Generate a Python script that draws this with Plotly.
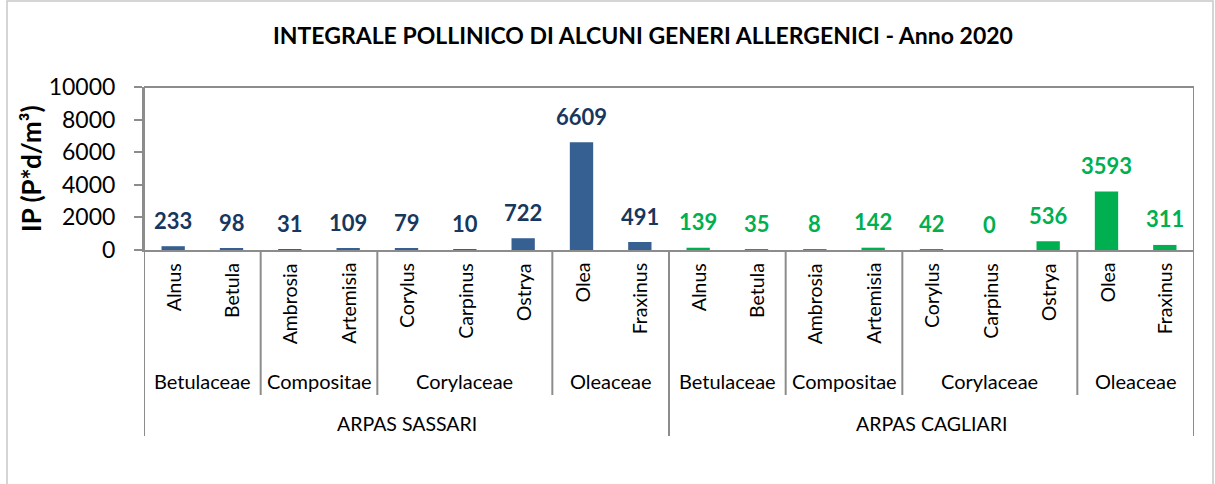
import plotly.graph_objects as go

# ---- data ----
sites = ["ARPAS SASSARI", "ARPAS CAGLIARI"]
families = ["Betulaceae", "Betulaceae", "Compositae", "Compositae",
            "Corylaceae", "Corylaceae", "Corylaceae", "Oleaceae", "Oleaceae"]
genera = ["Alnus", "Betula", "Ambrosia", "Artemisia", "Corylus",
          "Carpinus", "Ostrya", "Olea", "Fraxinus"]
sassari = [233, 98, 31, 109, 79, 10, 722, 6609, 491]
cagliari = [139, 35, 8, 142, 42, 0, 536, 3593, 311]
y_ticks = [0, 2000, 4000, 6000, 8000, 10000]

title = "INTEGRALE POLLINICO DI ALCUNI GENERI ALLERGENICI - Anno 2020"
y_title = "IP (P*d/m³)"

# ---- styles ----
W, H = 1215, 484
L, R, T, B = 144, 1194, 87, 250
FONT = "Lato"
bar_colors = ["#376092", "#00B050"]
label_colors = ["#17375E", "#00B050"]
grey = "#8C8C8C"

def px_x(px):
    return (px - L) / (R - L)

def px_y(py):
    return (B - py) / (B - T)

series = [sassari, cagliari]
n = len(genera)

fig = go.Figure()
annotations = []
shapes = []

for s, (site, vals) in enumerate(zip(sites, series)):
    xs = [s * n + i for i in range(n)]
    fig.add_trace(go.Bar(x=xs, y=vals, width=0.4,
                         marker=dict(color=bar_colors[s], line=dict(width=0)),
                         name=site, showlegend=False, hoverinfo="y"))
    for x, v in zip(xs, vals):
        annotations.append(dict(x=x, y=v, xref="x", yref="y", text="<b>%d</b>" % v,
                                showarrow=False, yanchor="middle", yshift=26,
                                font=dict(family=FONT, size=22, color=label_colors[s]),
                                ))
    for i, (g, x) in enumerate(zip(genera, xs)):
        annotations.append(dict(x=x, y=px_y(261), xref="x", yref="paper", text=g,
                                showarrow=False, textangle=-90, yanchor="top",
                                xanchor="center",
                                font=dict(family=FONT, size=19.5, color="#000000")))
    # family labels
    start = 0
    for i in range(1, n + 1):
        if i == n or families[i] != families[start]:
            cx = s * n + (start + i - 1) / 2
            annotations.append(dict(x=cx, y=px_y(381), xref="x", yref="paper",
                                    text=families[start], showarrow=False,
                                    yanchor="middle",
                                    font=dict(family=FONT, size=20, color="#000000")))
            if i != n:
                shapes.append(dict(type="line", xref="x", yref="paper",
                                   x0=s * n + i - 0.5, x1=s * n + i - 0.5,
                                   y0=0, y1=px_y(395),
                                   line=dict(color=grey, width=2)))
            start = i
    annotations.append(dict(x=s * n + (n - 1) / 2, y=px_y(423), xref="x", yref="paper",
                            text=site, showarrow=False, yanchor="middle",
                            font=dict(family=FONT, size=19.5, color="#000000")))

# site dividers / plot frame
n_sites = len(sites)
for k in range(n_sites + 1):
    top = 1 if k in (0, n_sites) else 0
    shapes.append(dict(type="line", xref="x", yref="paper",
                       x0=k * n - 0.5, x1=k * n - 0.5, y0=px_y(436), y1=top,
                       line=dict(color=grey, width=2)))
shapes.append(dict(type="line", xref="paper", yref="paper", x0=0, x1=1, y0=1, y1=1,
                   line=dict(color=grey, width=2)))
# outer chart border
shapes.append(dict(type="rect", xref="paper", yref="paper",
                   x0=px_x(7), x1=px_x(1213), y0=px_y(492), y1=px_y(1),
                   line=dict(color="#C8C8C8", width=1.5)))

# title and y title
annotations.append(dict(x=px_x(643), y=px_y(35), xref="paper", yref="paper",
                        text="<b>" + title + "</b>", showarrow=False,
                        xanchor="center", yanchor="middle",
                        font=dict(family=FONT, size=23, color="#000000")))
annotations.append(dict(x=px_x(31), y=px_y(169), xref="paper", yref="paper",
                        text="<b>" + y_title + "</b>", showarrow=False,
                        textangle=-90, xanchor="center", yanchor="middle",
                        font=dict(family=FONT, size=26, color="#000000")))

fig.update_layout(
    width=W, height=H,
    margin=dict(l=L, r=W - R, t=T, b=H - B, autoexpand=False),
    paper_bgcolor="white", plot_bgcolor="white",
    annotations=annotations, shapes=shapes,
    xaxis=dict(range=[-0.5, n_sites * n - 0.5], showticklabels=False,
               showgrid=False, zeroline=False, showline=True, linecolor=grey,
               linewidth=2, ticks=""),
    yaxis=dict(range=[0, 10000], tickvals=y_ticks, tickformat="d",
               showgrid=False, zeroline=False,
               showline=True, linecolor=grey, linewidth=2, ticks="outside",
               ticklen=8, tickcolor=grey, tickwidth=2, ticklabelstandoff=14,
               tickfont=dict(family=FONT, size=23, color="#000000")),
)

fig.write_html("out.html", config={"displayModeBar": False},
               post_script="document.body.style.margin='0px';document.body.style.padding='0px';")
